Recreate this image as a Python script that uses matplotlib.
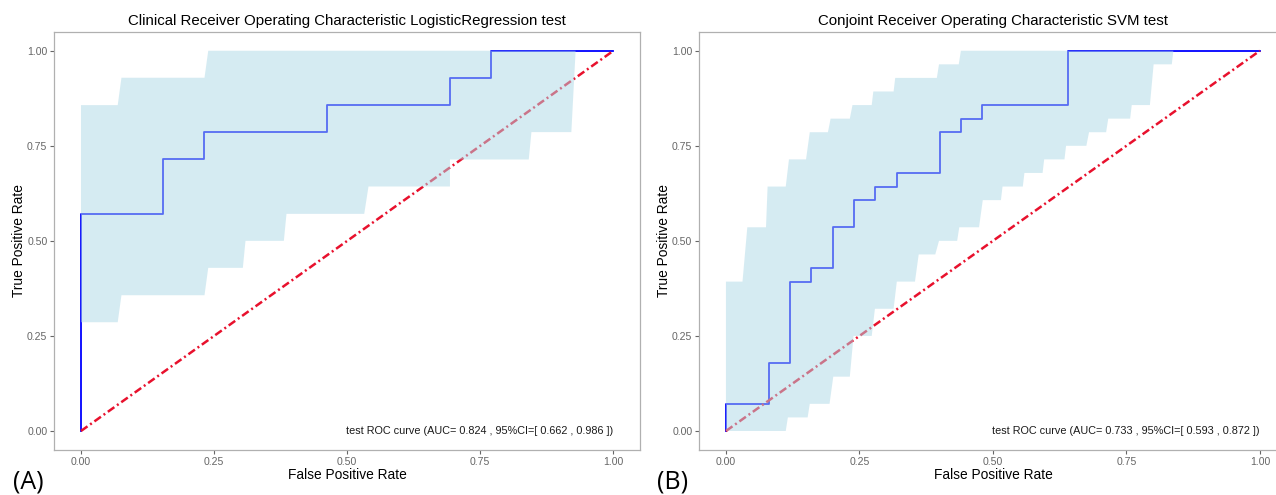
import numpy as np
import matplotlib
matplotlib.use("Agg")
import matplotlib.pyplot as plt

plt.rcParams['font.family'] = ['Liberation Sans', 'DejaVu Sans']

##### data: ROC steps (counts of false / true positives)
clin_fp = [0, 0, 2, 2, 3, 3, 6, 6, 9, 9, 10, 10, 13]
clin_tp = [0, 8, 8, 10, 10, 11, 11, 12, 12, 13, 13, 14, 14]
clin_neg, clin_pos = 13, 14

conj_fp = [0, 0, 2, 2, 3, 3, 4, 4, 5, 5, 6, 6, 7, 7, 8, 8, 10, 10, 11, 11, 12, 12, 16, 16, 25]
conj_tp = [0, 2, 2, 5, 5, 11, 11, 12, 12, 15, 15, 17, 17, 18, 18, 19, 19, 22, 22, 23, 23, 24, 24, 28, 28]
conj_neg, conj_pos = 25, 28

##### data: 95% CI band of sensitivity
clin_up_x = [0, 0.069, 0.076, 0.232, 0.239, 0.929]
clin_up_y = [0.857, 0.857, 0.929, 0.929, 1.0, 1.0]
clin_lo_x = [0, 0.069, 0.076, 0.232, 0.239, 0.304, 0.309, 0.381, 0.386, 0.532,
             0.540, 0.693, 0.693, 0.841, 0.846, 0.921]
clin_lo_y = [0.286, 0.286, 0.357, 0.357, 0.429, 0.429, 0.500, 0.500, 0.571, 0.571,
             0.643, 0.643, 0.714, 0.714, 0.786, 0.786]

conj_up_x = [0, 0.031, 0.040, 0.075, 0.078, 0.112, 0.118, 0.150, 0.157, 0.191, 0.196,
             0.232, 0.237, 0.273, 0.276, 0.314, 0.317, 0.395, 0.399, 0.436, 0.440, 0.838]
conj_up_y = np.array([11, 11, 15, 15, 18, 18, 20, 20, 22, 22, 23,
                      23, 24, 24, 25, 25, 26, 26, 27, 27, 28, 28]) / 28
conj_lo_x = [0, 0.112, 0.116, 0.153, 0.157, 0.194, 0.201, 0.232, 0.239, 0.273, 0.279,
             0.314, 0.320, 0.354, 0.361, 0.392, 0.399, 0.433, 0.437, 0.474, 0.481, 0.515,
             0.518, 0.556, 0.559, 0.593, 0.596, 0.634, 0.637, 0.675, 0.680, 0.712, 0.716,
             0.757, 0.760, 0.794, 0.801, 0.835]
conj_lo_y = np.array([0, 0, 1, 1, 2, 2, 4, 4, 7, 7, 9, 9, 11, 11, 13, 13, 14, 14, 15,
                      15, 17, 17, 18, 18, 19, 19, 20, 20, 21, 21, 22, 22, 23, 23, 24,
                      24, 27, 27]) / 28

titles = ['Clinical Receiver Operating Characteristic LogisticRegression test',
          'Conjoint Receiver Operating Characteristic SVM test']
notes = ['test ROC curve (AUC= 0.824 , 95%CI=[ 0.662 , 0.986 ])',
         'test ROC curve (AUC= 0.733 , 95%CI=[ 0.593 , 0.872 ])']
ticks = [0, 0.25, 0.5, 0.75, 1.0]
tick_labels = ['0.00', '0.25', '0.50', '0.75', '1.00']

fig = plt.figure(figsize=(12.76, 4.95), dpi=100)
ax1 = fig.add_axes([0.0426, 0.0909, 0.459, 0.845])
ax2 = fig.add_axes([0.548, 0.0909, 0.4603, 0.845])

panels = [
    (ax1, clin_fp, clin_tp, clin_neg, clin_pos, clin_up_x, clin_up_y, clin_lo_x, clin_lo_y),
    (ax2, conj_fp, conj_tp, conj_neg, conj_pos, conj_up_x, conj_up_y, conj_lo_x, conj_lo_y),
]

for i, (ax, fp, tp, nn, npos, ux, uy, lx, ly) in enumerate(panels):
    fpr = np.array(fp) / nn
    tpr = np.array(tp) / npos
    ax.plot(fpr, tpr, color='#0000ff', lw=1.3, zorder=2)
    ax.plot([0, 1], [0, 1], color='#e8112d', lw=1.8,
            linestyle=(0, (3.2, 1.3, 0.8, 1.3)), zorder=2)
    # band drawn on top, semi transparent
    px = np.r_[ux, np.array(lx)[::-1]]
    py = np.r_[uy, np.array(ly)[::-1]]
    ax.fill(px, py, color='#add8e6', alpha=0.5, lw=0, zorder=3)
    ax.text(1.0, 0.0, notes[i], ha='right', va='center', fontsize=7.8,
            color='#1a1a1a', zorder=4)

    ax.set_xlim(-0.05, 1.05)
    ax.set_ylim(-0.05, 1.05)
    ax.set_xticks(ticks)
    ax.set_xticklabels(tick_labels)
    ax.set_yticks(ticks)
    ax.set_yticklabels(tick_labels)
    ax.tick_params(length=3, width=0.8, color='#666666', labelcolor='#666666',
                   labelsize=7.6, pad=2)
    for s in ax.spines.values():
        s.set_color('#b0b0b0')
        s.set_linewidth(0.9)
    ax.set_title(titles[i], fontsize=10.8, pad=5)
    ax.set_xlabel('False Positive Rate', fontsize=9.9, labelpad=0.5)
    ax.set_ylabel('True Positive Rate', fontsize=9.9, labelpad=1)

fig.text(0.0223, 0.0253, '(A)', ha='center', va='center', fontsize=18,
         family=['Open Sans', 'DejaVu Sans'])
fig.text(0.527, 0.0253, '(B)', ha='center', va='center', fontsize=18,
         family=['Open Sans', 'DejaVu Sans'])

fig.savefig('out.png', dpi=100)
